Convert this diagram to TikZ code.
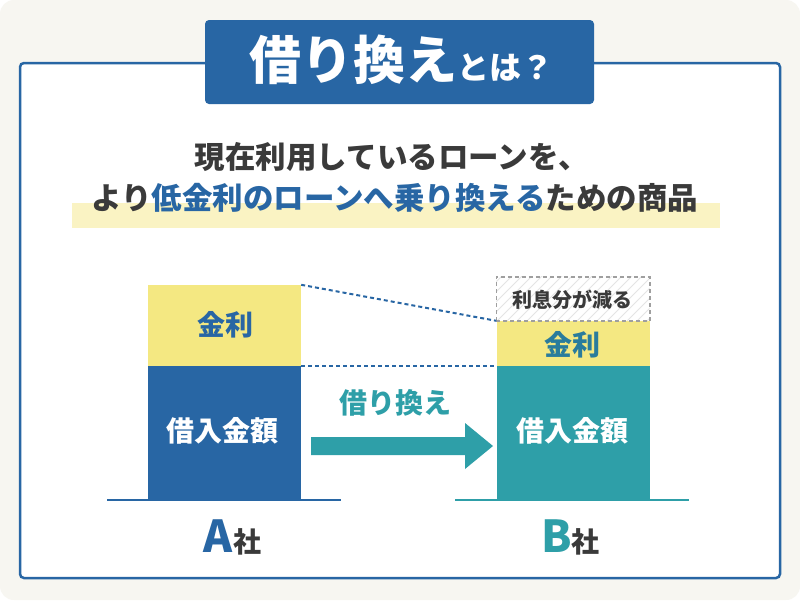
\documentclass[tikz,border=0pt]{standalone}
\usepackage{fontspec}
\newfontfamily\jp{Noto Sans CJK JP}
\definecolor{cream}{HTML}{F7F6F1}
\definecolor{mainblue}{HTML}{2866A4}
\definecolor{tealc}{HTML}{2E9FA8}
\definecolor{ylw}{HTML}{F4E882}
\definecolor{hl}{HTML}{FAF3C3}
\definecolor{txt}{HTML}{3A3A3A}
\definecolor{bteal}{HTML}{2A7C9C}
\definecolor{hatch}{HTML}{E4E4E4}
\tikzset{
  jpnode/.style={inner sep=0pt, font=\jp\bfseries},
  barbox/.style={inner sep=0pt, minimum width=153pt},
  dashline/.style={mainblue, line width=2pt, dash pattern=on 4pt off 3pt},
  baseline/.style={line width=2.5pt},
}
\begin{document}
\begin{tikzpicture}[x=1pt,y=-1pt]
\useasboundingbox (0,0) rectangle (800,600);
\fill[white] (0,0) rectangle (800,600);
\fill[cream, rounded corners=14pt] (0,0) rectangle (800,600);
% panel
\node[draw=mainblue, line width=2.5pt, fill=white, rounded corners=4pt,
      minimum width=760pt, minimum height=515pt, inner sep=0pt] (panel) at (400,320.5) {};
% title
\node[fill=mainblue, rounded corners=4pt, minimum width=389pt, minimum height=84pt, inner sep=0pt] (titlebox) at (399.5,62) {};
\node[jpnode, text=white] (title) at (401,60) {{\fontsize{52}{54}\selectfont 借り換え}{\fontsize{32}{34}\selectfont とは？}};
% lines
\node[jpnode, text=txt] (line1) at (392,157) {\fontsize{30.5}{32}\selectfont 現在利用しているローンを、};
\fill[hl] (72,203) rectangle (720,228);
\node[jpnode, text=txt] (line2) at (395,198) {\fontsize{30.5}{32}\selectfont より\textcolor{mainblue}{低金利のローンへ乗り換える}ための商品};
% A bars
\node[barbox, fill=ylw, minimum height=81pt] (arate) at (224.5,325.5) {};
\node[barbox, fill=mainblue, minimum height=134pt] (aloan) at (224.5,433) {};
\node[jpnode, text=mainblue] (arateT) at (225,325) {\fontsize{28}{30}\selectfont 金利};
\node[jpnode, text=white] (aloanT) at (222,431) {\fontsize{28}{30}\selectfont 借入金額};
% B bars
\node[barbox, fill=ylw, minimum height=45pt] (brate) at (573,343.5) {};
\node[barbox, fill=tealc, minimum height=134pt] (bloan) at (573,433) {};
\node[barbox, minimum height=44pt] (bred) at (573,299) {};
\begin{scope}
  \clip (bred.south west) rectangle (bred.north east);
  \foreach \i in {-60,-50,...,170} {
    \draw[hatch, line width=1pt] (497+\i,321) -- ++(50,-50);
  }
\end{scope}
\draw[gray!75, line width=1.6pt, dash pattern=on 4pt off 3pt] (bred.south west) rectangle (bred.north east);
\node[jpnode, text=txt] (bredT) at (572.5,300) {\fontsize{20}{22}\selectfont 利息分が減る};
\node[jpnode, text=bteal] (brateT) at (572.5,345) {\fontsize{28}{30}\selectfont 金利};
\node[jpnode, text=white] (bloanT) at (572,431) {\fontsize{28}{30}\selectfont 借入金額};
% dashed guides
\draw[dashline] (arate.north east) -- (brate.north west);
\draw[dashline] (arate.south east) -- (brate.south west);
% baselines
\coordinate (a1) at (107,500); \coordinate (a2) at (341,500);
\coordinate (b1) at (455,500); \coordinate (b2) at (689,500);
\draw[baseline, mainblue] (a1) -- (a2);
\draw[baseline, tealc] (b1) -- (b2);
% company labels
\node[jpnode] (alab) at (232.5,537) {{\fontsize{44}{46}\selectfont\color{mainblue}A}{\fontsize{28}{30}\selectfont\color{txt}社}};
\node[jpnode] (blab) at (570.5,537) {{\fontsize{44}{46}\selectfont\color{tealc}B}{\fontsize{28}{30}\selectfont\color{txt}社}};
% arrow
\fill[tealc] (311,437) -- (465,437) -- (465,423) -- (493,446) -- (465,469) -- (465,455) -- (311,455) -- cycle;
\node[jpnode, text=tealc] (arrT) at (395,403) {\fontsize{28}{30}\selectfont 借り換え};
\end{tikzpicture}
\end{document}
